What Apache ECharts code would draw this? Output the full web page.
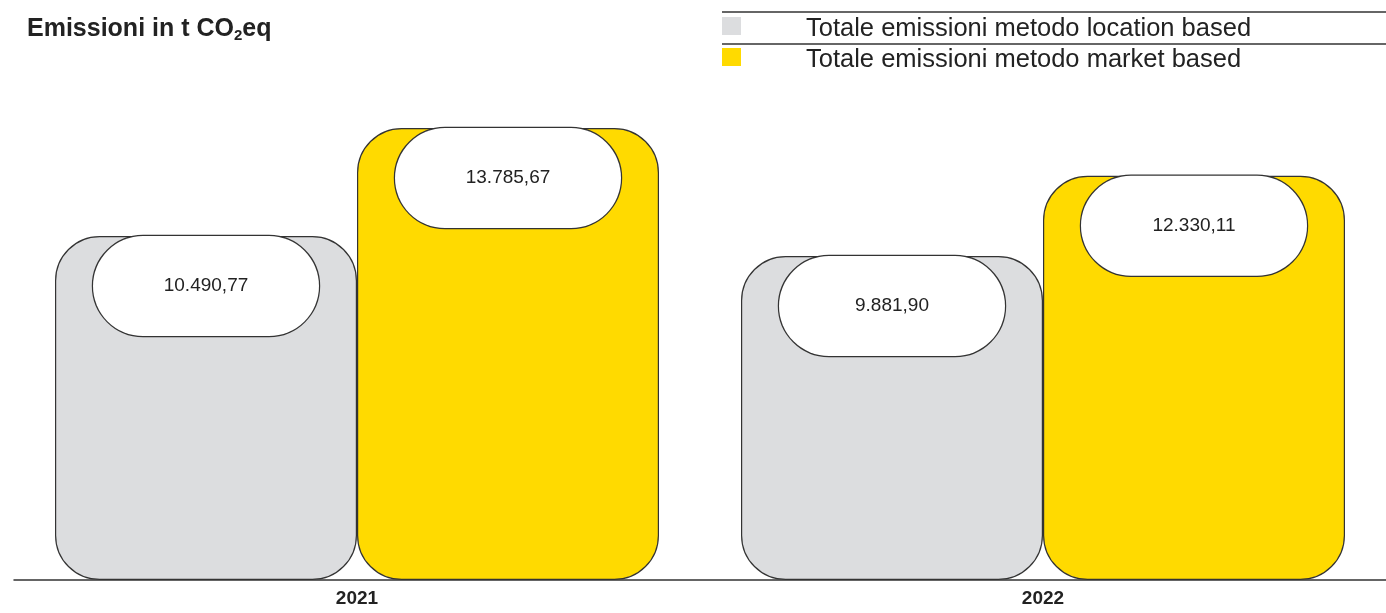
<!DOCTYPE html>
<html>
<head>
    <meta charset="utf-8">
    <title>Emissioni</title>
    <script src="https://cdn.jsdelivr.net/npm/echarts@6/dist/echarts.min.js"></script>
    <style>
        html, body { margin: 0; padding: 0; background: #fff; }
        #main { width: 1386px; height: 613px; }
    </style>
</head>
<body>
<div id="main"></div>
<script type="text/javascript">
    // dati
    var anni = ['2021', '2022'];
    var nomiSerie = ['Totale emissioni metodo location based', 'Totale emissioni metodo market based'];
    var locationBased = [10490.77, 9881.90];
    var marketBased = [13785.67, 12330.11];

    var font = '"Liberation Sans", Arial, sans-serif';

    // formato italiano: 10.490,77
    function formatIt(v) {
        var parts = v.toFixed(2).split('.');
        var intPart = parts[0].replace(/\B(?=(\d{3})+(?!\d))/g, '.');
        return intPart + ',' + parts[1];
    }

    var pill = {
        show: true,
        position: 'insideTop',
        distance: 0,
        width: 226,
        height: 100,
        lineHeight: 100,
        align: 'center',
        backgroundColor: '#fff',
        borderColor: '#333',
        borderWidth: 1.2,
        borderRadius: 50,
        fontFamily: font,
        fontSize: 19,
        color: '#222',
        formatter: function (p) { return formatIt(p.value); }
    };

    var myChart = echarts.init(document.getElementById('main'));

    var option = {
        animation: false,
        title: {
            text: 'Emissioni in t CO{sub|2}eq',
            left: 22,
            top: 11,
            textStyle: {
                fontFamily: font,
                fontSize: 25,
                fontWeight: 'bold',
                color: '#222',
                rich: {
                    sub: {
                        fontFamily: font,
                        fontSize: 15,
                        fontWeight: 'bold',
                        color: '#222',
                        padding: [12, 0, 0, 0]
                    }
                }
            }
        },
        legend: {
            orient: 'vertical',
            left: 722,
            top: 13,
            padding: 0,
            itemWidth: 19,
            itemHeight: 18,
            itemGap: 2,
            icon: 'rect',
            selectedMode: false,
            data: nomiSerie,
            itemStyle: { borderWidth: 0 },
            // spazio + testo leggermente abbassato rispetto al quadratino
            formatter: function (name) { return '{s|}{t|' + name + '}'; },
            textStyle: {
                fontFamily: font,
                fontSize: 25.5,
                color: '#222',
                rich: {
                    s: { width: 60, lineHeight: 32 },
                    t: { fontFamily: font, fontSize: 25.5, color: '#222', lineHeight: 26, verticalAlign: 'bottom' }
                }
            }
        },
        graphic: [
            { type: 'line', shape: { x1: 722, y1: 12, x2: 1386, y2: 12 }, style: { stroke: '#333', lineWidth: 1.3 } },
            { type: 'line', shape: { x1: 722, y1: 44, x2: 1386, y2: 44 }, style: { stroke: '#333', lineWidth: 1.3 } }
        ],
        grid: {
            left: 14,
            right: 0,
            top: 121,
            bottom: 33
        },
        xAxis: {
            type: 'category',
            data: anni,
            axisTick: { show: false },
            axisLine: { lineStyle: { color: '#333', width: 1.5 } },
            axisLabel: {
                margin: 9,
                fontFamily: font,
                fontSize: 19,
                fontWeight: 'bold',
                color: '#222'
            }
        },
        yAxis: {
            type: 'value',
            min: 0,
            max: 14000,
            show: false,
            splitLine: { show: false }
        },
        series: [
            {
                name: nomiSerie[0],
                type: 'bar',
                data: locationBased,
                barWidth: 302,
                barGap: '0%',
                itemStyle: { color: '#dcdddf', borderColor: '#333', borderWidth: 1.2, borderRadius: 44 },
                label: pill
            },
            {
                name: nomiSerie[1],
                type: 'bar',
                data: marketBased,
                barWidth: 302,
                barGap: '0%',
                itemStyle: { color: '#ffda00', borderColor: '#333', borderWidth: 1.2, borderRadius: 44 },
                label: pill
            }
        ]
    };

    myChart.setOption(option);
</script>
</body>
</html>
